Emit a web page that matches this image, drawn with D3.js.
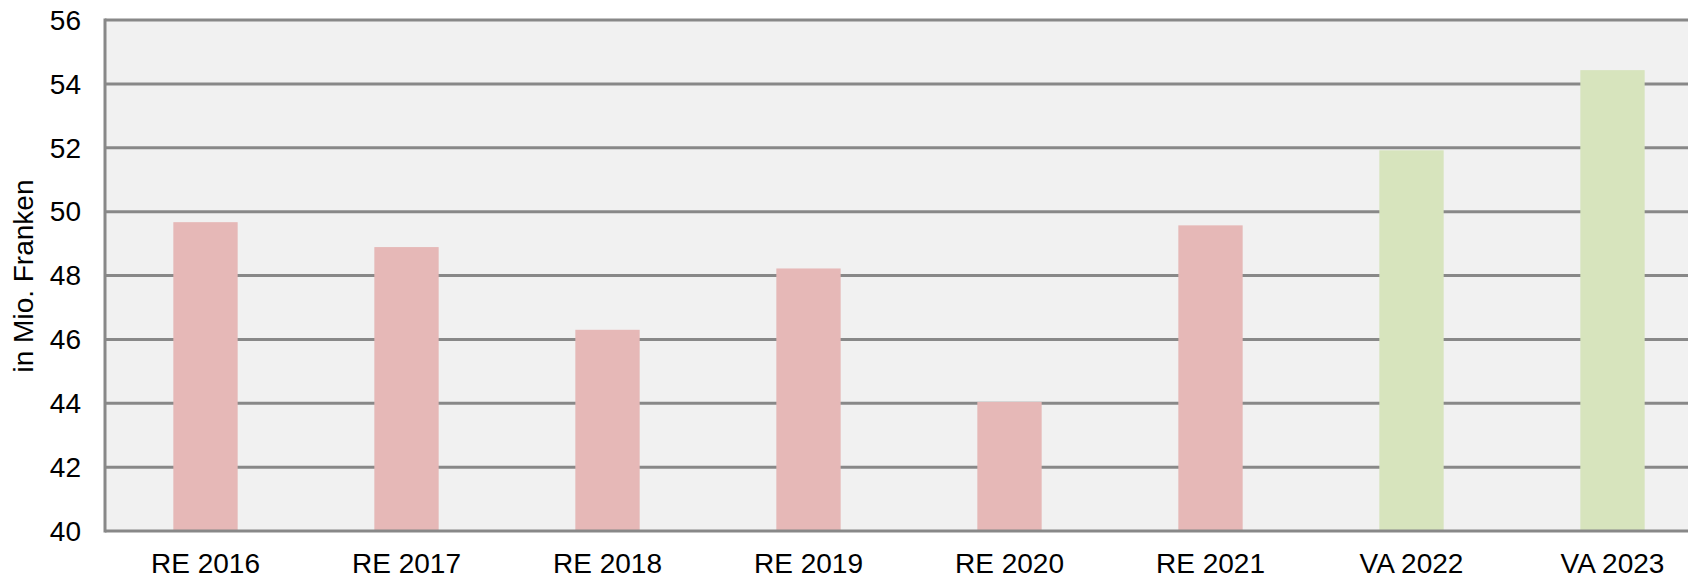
<!DOCTYPE html>
<html>
<head>
<meta charset="utf-8">
<script src="https://cdn.jsdelivr.net/npm/d3@7"></script>
<style>
  html, body { margin: 0; padding: 0; background: #ffffff; }
  svg { display: block; font-family: "Liberation Sans", Arial, sans-serif; }
</style>
</head>
<body>
<svg id="chart" width="1688" height="578"></svg>
<script>
// chart data
const categories = ['RE 2016', 'RE 2017', 'RE 2018', 'RE 2019', 'RE 2020', 'RE 2021', 'VA 2022', 'VA 2023'];
const values = [49.67, 48.89, 46.3, 48.22, 44.04, 49.57, 51.92, 54.43];
const kinds = ['RE', 'RE', 'RE', 'RE', 'RE', 'RE', 'VA', 'VA'];
const yTicks = [40, 42, 44, 46, 48, 50, 52, 54, 56];
const yTitle = 'in Mio. Franken';

const COLORS = { RE: '#e6b8b7', VA: '#d7e4bd' };
const GRID = '#888888';

const MARGINS = { top: 20, bottom: 47, left: 105, right: 0 };
const svg = d3.select('#chart');
const width = +svg.attr('width');
const height = +svg.attr('height');
const plotBottom = height - MARGINS.bottom;

// band step is ~201px, so the last band runs past the right edge like the original
const x = d3.scaleBand()
  .domain(categories)
  .range([MARGINS.left, MARGINS.left + 201 * categories.length])
  .padding(0);

const y = d3.scaleLinear()
  .domain([40, 56])
  .range([plotBottom, MARGINS.top]);

const barWidth = x.bandwidth() * 0.32;

// plot background
svg.append('rect')
  .attr('x', MARGINS.left)
  .attr('y', MARGINS.top)
  .attr('width', width - MARGINS.left)
  .attr('height', plotBottom - MARGINS.top)
  .attr('fill', '#f1f1f1');

// gridlines
svg.append('g').attr('class', 'grid')
  .selectAll('line')
  .data(yTicks.filter(t => t > 40))
  .join('line')
  .attr('x1', MARGINS.left)
  .attr('x2', width)
  .attr('y1', d => y(d))
  .attr('y2', d => y(d))
  .attr('stroke', GRID)
  .attr('stroke-width', 3);

// bars
svg.append('g').attr('class', 'bars')
  .selectAll('rect')
  .data(values)
  .join('rect')
  .attr('x', (d, i) => x(categories[i]) + (x.bandwidth() - barWidth) / 2)
  .attr('y', d => y(d))
  .attr('width', barWidth)
  .attr('height', d => y(40) - y(d))
  .attr('fill', (d, i) => COLORS[kinds[i]]);

// axis lines
svg.append('line')
  .attr('x1', MARGINS.left).attr('x2', width)
  .attr('y1', y(40)).attr('y2', y(40))
  .attr('stroke', GRID).attr('stroke-width', 3);
svg.append('line')
  .attr('x1', MARGINS.left).attr('x2', MARGINS.left)
  .attr('y1', MARGINS.top - 1.5).attr('y2', y(40) + 1.5)
  .attr('stroke', GRID).attr('stroke-width', 3);

// y tick labels
svg.append('g').attr('class', 'y-labels')
  .selectAll('text')
  .data(yTicks)
  .join('text')
  .attr('x', 81)
  .attr('y', d => y(d))
  .attr('dy', '0.35em')
  .attr('text-anchor', 'end')
  .attr('font-size', 28)
  .attr('fill', '#000')
  .text(d => d);

// x labels
svg.append('g').attr('class', 'x-labels')
  .selectAll('text')
  .data(categories)
  .join('text')
  .attr('x', d => x(d) + x.bandwidth() / 2)
  .attr('y', 573)
  .attr('text-anchor', 'middle')
  .attr('font-size', 28)
  .attr('fill', '#000')
  .text(d => d);

// y axis title
svg.append('text')
  .attr('transform', 'translate(33,276) rotate(-90)')
  .attr('text-anchor', 'middle')
  .attr('font-size', 28)
  .attr('fill', '#000')
  .text(yTitle);
</script>
</body>
</html>
